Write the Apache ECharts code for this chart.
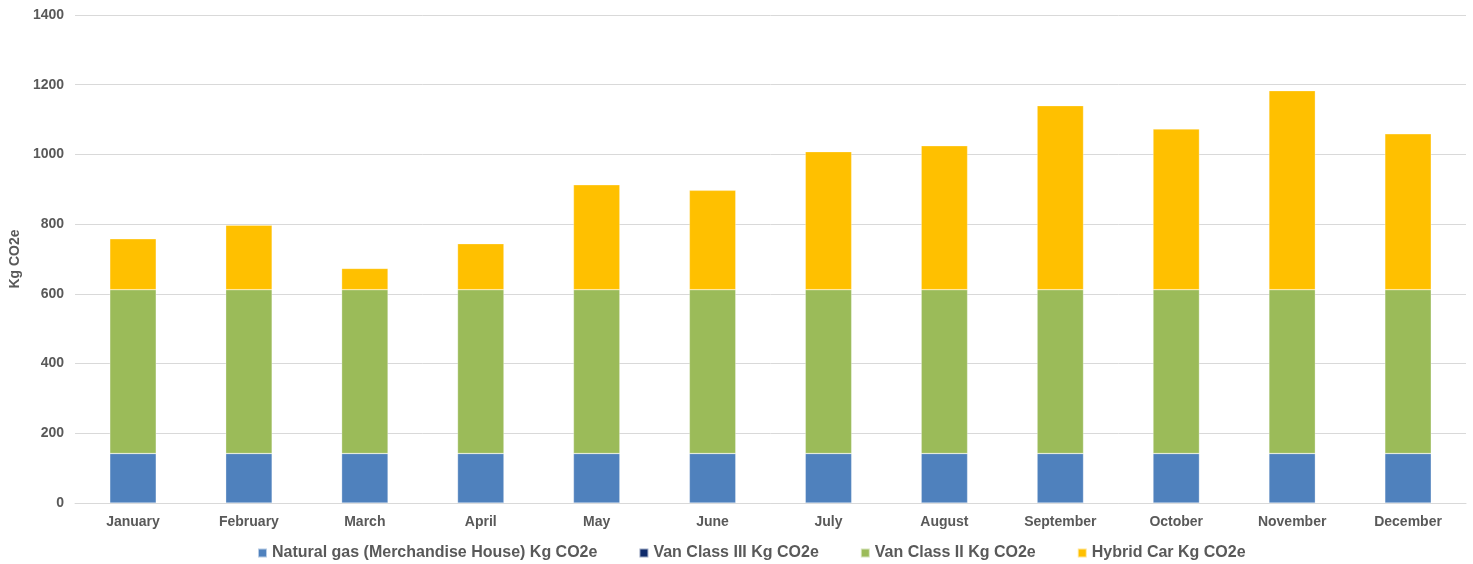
<!DOCTYPE html>
<html>
<head>
<meta charset="utf-8">
<script src="https://cdn.jsdelivr.net/npm/echarts@6/dist/echarts.min.js"></script>
<style>html,body{margin:0;padding:0;background:#fff}#c{width:1473px;height:564px}</style>
</head>
<body>
<div id="c"></div>
<script>
const categories = ['January','February','March','April','May','June','July','August','September','October','November','December'];
const naturalGas = [142,142,142,142,142,142,142,142,142,142,142,142];
const vanClassIII = [0,0,0,0,0,0,0,0,0,0,0,0];
const vanClassII = [470,470,470,470,470,470,470,470,470,470,470,470];
const hybridCar = [146,185,61,132,301,285,396,413,528,461,571,447];
const seriesNames = ['Natural gas (Merchandise House) Kg CO2e','Van Class III Kg CO2e','Van Class II Kg CO2e','Hybrid Car Kg CO2e'];
const colors = ['#4F81BD','#0E2A6B','#9BBB59','#FFC000'];
const font = 'Liberation Sans, Arial, sans-serif';
const dataSets = [naturalGas, vanClassIII, vanClassII, hybridCar];
const chart = echarts.init(document.getElementById('c'));
chart.setOption({
  animation:false,
  grid:{left:71,right:7,top:15,bottom:61},
  legend:{
    top:540,left:252,itemWidth:9,itemHeight:9,itemGap:41,icon:'rect',
    textStyle:{color:'#595959',fontFamily:font,fontWeight:'bold',fontSize:16}
  },
  xAxis:{
    type:'category',data:categories,
    axisLine:{lineStyle:{color:'#D9D9D9'}},axisTick:{show:false},
    axisLabel:{color:'#595959',fontFamily:font,fontWeight:'bold',fontSize:14,margin:12}
  },
  yAxis:{
    type:'value',min:0,max:1400,interval:200,
    name:'Kg CO2e',nameLocation:'middle',nameGap:47,
    nameTextStyle:{color:'#595959',fontFamily:font,fontWeight:'bold',fontSize:14},
    axisLine:{show:false},axisTick:{show:false},
    splitLine:{lineStyle:{color:'#D9D9D9',width:1}},
    axisLabel:{color:'#595959',fontFamily:font,fontWeight:'bold',fontSize:14,margin:11,formatter:v=>String(v)}
  },
  series: seriesNames.map((n,i)=>({
    name:n,type:'bar',stack:'total',data:dataSets[i],barWidth:'40%',
    itemStyle:{color:colors[i],borderColor:'rgba(255,255,255,0.6)',borderWidth:0.5}
  }))
});
</script>
</body>
</html>
